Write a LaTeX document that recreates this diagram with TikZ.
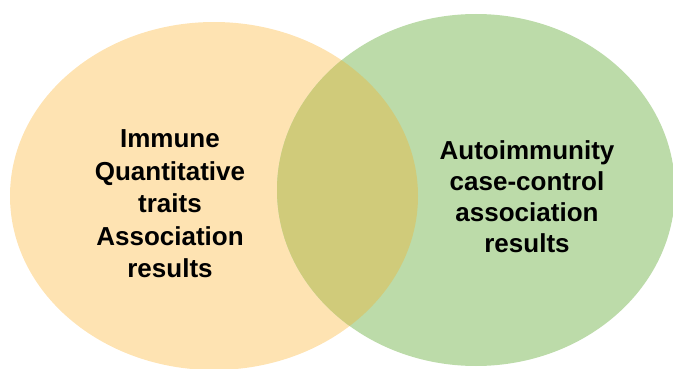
\documentclass[tikz,border=0pt]{standalone}
\usepackage{fontspec}
\setmainfont{Liberation Sans}
\usetikzlibrary{positioning}
\definecolor{peach}{HTML}{FEE3B2}
\definecolor{sage}{HTML}{BCDBA9}
\definecolor{olive}{HTML}{D0CB7A}
\tikzset{
  vennset/.style={draw=none, fill=#1},
  vennset/.default=peach,
  setlabel/.style={
    font=\fontsize{26}{#1}\selectfont\bfseries,
    align=center, text=black, inner sep=0pt
  },
  setlabel/.default=32.5,
}

\begin{document}
\begin{tikzpicture}[x=1pt,y=-1pt]
  \useasboundingbox (0,0) rectangle (673,369);
  % the two sets
  \path[vennset=peach] (214,196) ellipse [x radius=204, y radius=174];
  \path[vennset=sage] (476,190) ellipse [x radius=199, y radius=176];
  % shared part
  \begin{scope}
    \clip (214,196) ellipse [x radius=204, y radius=174];
    \path[vennset=olive] (476,190) ellipse [x radius=199, y radius=176];
  \end{scope}

  \node[setlabel] (qt) at (170,204) {Immune\\Quantitative\\traits\\Association\\results};
  \node[setlabel=31] (cc) at (527,197) {Autoimmunity\\case-control\\association\\results};
\end{tikzpicture}
\end{document}
